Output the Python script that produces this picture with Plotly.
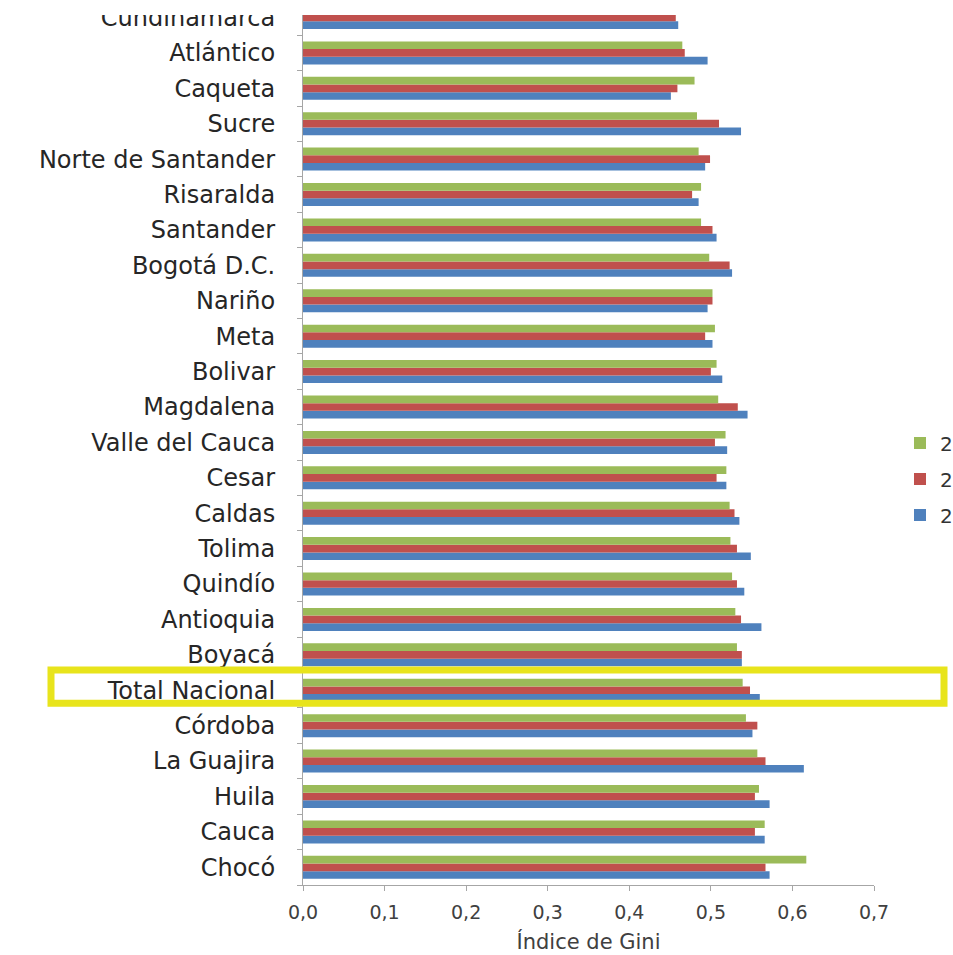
import plotly.graph_objects as go

# Departments, listed top to bottom as they appear on the chart
departamentos = [
    "Cundinamarca", "Atlántico", "Caqueta", "Sucre", "Norte de Santander",
    "Risaralda", "Santander", "Bogotá D.C.", "Nariño", "Meta", "Bolivar",
    "Magdalena", "Valle del Cauca", "Cesar", "Caldas", "Tolima", "Quindío",
    "Antioquia", "Boyacá", "Total Nacional", "Córdoba", "La Guajira",
    "Huila", "Cauca", "Chocó",
]

# Gini index per department and year (same order as above)
gini_2012 = [0.456, 0.465, 0.480, 0.483, 0.485, 0.488, 0.488, 0.498, 0.502,
             0.505, 0.507, 0.509, 0.518, 0.519, 0.523, 0.524, 0.526, 0.530,
             0.532, 0.539, 0.543, 0.557, 0.559, 0.566, 0.617]
gini_2011 = [0.457, 0.468, 0.459, 0.510, 0.499, 0.477, 0.502, 0.523, 0.502,
             0.493, 0.500, 0.533, 0.505, 0.507, 0.529, 0.532, 0.532, 0.537,
             0.538, 0.548, 0.557, 0.567, 0.554, 0.554, 0.567]
gini_2010 = [0.460, 0.496, 0.451, 0.537, 0.493, 0.485, 0.507, 0.526, 0.496,
             0.502, 0.514, 0.545, 0.520, 0.519, 0.535, 0.549, 0.541, 0.562,
             0.538, 0.560, 0.551, 0.614, 0.572, 0.566, 0.572]

x_ticks = [0.0, 0.1, 0.2, 0.3, 0.4, 0.5, 0.6, 0.7]
highlight = "Total Nacional"

# bottom-to-top order for the categorical axis
orden = departamentos[::-1]
y_top = 24.07  # top row is partly cut off by the upper edge

series = [
    ("2010", gini_2010, "#4F81BD"),
    ("2011", gini_2011, "#C0504D"),
    ("2012", gini_2012, "#9BBB59"),
]

fig = go.Figure()
for rank, (nombre, valores, color) in enumerate(series):
    fig.add_trace(go.Bar(
        x=valores, y=departamentos, name=nombre, orientation="h",
        marker=dict(color=color, line=dict(width=0)),
        legendgroup=nombre, legendrank=len(series) - rank,
    ))

W, H = 953, 955
m_l, m_r, m_t, m_b = 303, 79, 15, 70
plot_w = W - m_l - m_r

idx = orden.index(highlight)

def px_to_paper_x(px):
    return (px - m_l) / plot_w

fig.update_layout(
    width=W, height=H,
    margin=dict(l=m_l, r=m_r, t=m_t, b=m_b, autoexpand=False),
    barmode="group", bargap=0.35, bargroupgap=0.0,
    plot_bgcolor="white", paper_bgcolor="white",
    separators=",.",
    font=dict(family="DejaVu Sans", color="#333333"),
    showlegend=True,
    legend=dict(
        x=px_to_paper_x(900), xanchor="left",
        y=(H - m_b - 479) / (H - m_t - m_b), yanchor="middle",
        traceorder="grouped", tracegroupgap=7,
        font=dict(size=20, color="#333333"),
        bgcolor="rgba(0,0,0,0)",
    ),
    xaxis=dict(
        range=[0, 0.7], tickvals=x_ticks, tickformat=".1f",
        showgrid=False, zeroline=False,
        showline=True, linecolor="#A6A6A6", linewidth=1,
        ticks="outside", ticklen=5, tickcolor="#A6A6A6",
        tickfont=dict(size=19, color="#404040"),
        ticklabelstandoff=5,
        title=dict(text="Índice de Gini", font=dict(size=21, color="#404040"), standoff=12),
    ),
    yaxis=dict(
        type="category", categoryorder="array", categoryarray=orden,
        range=[-0.5, y_top],
        showgrid=False, zeroline=False,
        showline=True, linecolor="#A6A6A6", linewidth=1,
        ticks="outside", ticklen=5, tickcolor="#A6A6A6", tickson="boundaries",
        tickfont=dict(size=24, color="#262626"),
        ticklabelstandoff=22,
    ),
    shapes=[
        # yellow frame around the national total row
        dict(type="rect", xref="paper", yref="y",
             x0=px_to_paper_x(51), x1=px_to_paper_x(944),
             y0=idx - 0.37, y1=idx + 0.57,
             line=dict(color="#E8E41C", width=7), fillcolor="rgba(0,0,0,0)",
             layer="above"),
        # white strip along the top edge
        dict(type="rect", xref="paper", yref="paper",
             x0=-1, x1=1.3, y0=1.0, y1=1.1,
             line=dict(width=0), fillcolor="white", layer="above"),
    ],
)

fig.write_html("out.html")
